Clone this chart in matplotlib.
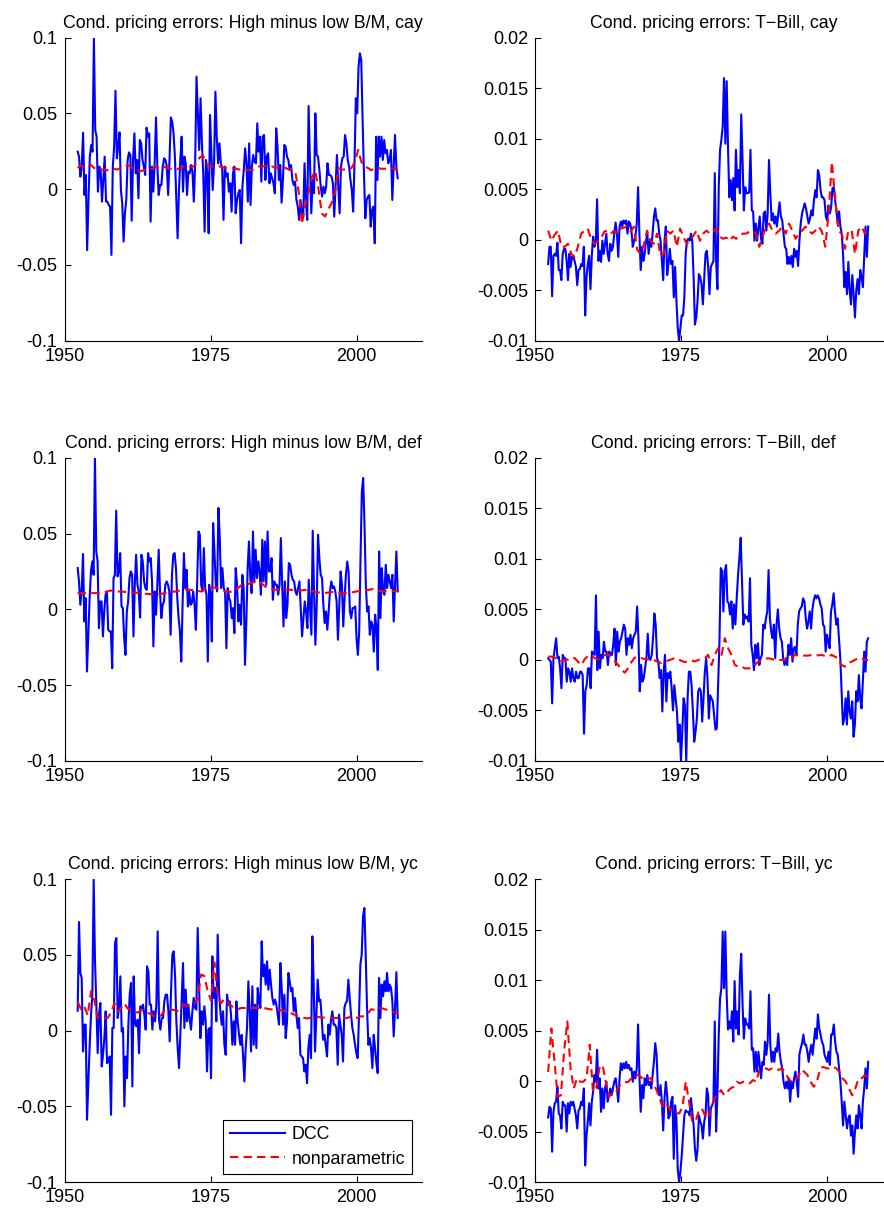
import matplotlib
matplotlib.use('Agg')
import matplotlib.pyplot as plt
import numpy as np

plt.rcParams['font.family'] = ['Liberation Sans', 'DejaVu Sans']

# all values below are in units of 1e-3, quarterly-ish from 1952 to 2007
# High minus low B/M, cay
hml_cay_dcc = [
    24.8, 21.5, 8.3, 14.9, 37.3, -3.8, 9.4, -40.2, -7.1, 21.5, 29.2, 24.8, 99.6, 39.1, 34.7, -1.6,
    14.9, 12.7, -8.2, 6.1, 21.5, -8.2, -8.2, -10.4, -11.5, -43.4, 14.9, 28.1, 65.0, 20.4, 28.1, 37.5,
    -0.5, -9.3, -34.6, -15.9, -7.1, 19.3, 24.3, 22.6, -20.8, 19.3, 36.9, 10.5, 19.3, -6.0, 32.5, 30.3,
    19.3, 14.9, 9.4, 40.6, 34.7, 36.9, -21.4, 14.9, -1.6, 17.1, 47.4, 14.9, -3.8, 2.8, 2.8, 14.9,
    20.4, 19.3, 14.9, -3.8, 19.3, 47.4, 44.6, 36.9, 21.5, -6.0, -32.4, -0.5, 19.3, 34.7, -1.6, 21.5,
    17.1, -3.8, 11.6, 10.5, 16.0, 11.6, -8.2, 17.1, 74.3, 50.1, 25.9, 60.0, 30.3, 10.5, -28.0, 19.3,
    10.5, -29.1, 49.0, 23.7, -0.5, 17.1, 64.4, 34.7, 17.1, 30.3, 17.1, 13.8, -20.3, 14.9, 8.3, 10.5,
    -1.6, 3.9, -14.8, 10.5, 14.9, -15.9, -7.1, -2.7, -0.5, -35.7,
    1.7, 12.7, 27.0, 17.1, -8.2, 30.3, -10.4, 14.9, 22.6, 18.2, 17.1, 43.5, 24.8, 34.7, 5.0, 34.7,
    35.8, 6.1, 21.5, 23.7, 3.9, 10.5, 7.2, 3.9, -2.7, 40.2, 28.1, 6.1, 16.0, -8.9, 6.1, 29.2,
    28.1, 21.5, 19.3, 12.7, 16.0, 6.1, 2.8, 5.0, -7.1, -11.5, -20.3, -7.1, -15.9, -18.1, 17.1, -8.2,
    -20.3, 54.9, 19.3, -15.9, 6.1, -2.7, 50.1, 22.6, 21.5, 12.7, 1.7, -4.9, 1.7, -2.7, 1.7, 17.1,
    9.4, 9.4, 8.3, 3.9, -18.1, 1.7, 22.6, 1.7, -15.9, 14.9, 20.4, 21.5, 35.8, 30.3, 19.3, 14.9,
    6.1, -0.5, -14.8, 17.1, 60.0, 50.1, 80.9, 89.7, 85.3, 45.7, 10.5, -19.2, -7.1, -4.9, -3.8, -24.7,
    -13.7, -11.5, -35.7, 34.7, 6.1, 34.7, 21.5, 34.7, 19.3, 32.5, 23.7, 25.9, 17.1, 19.3, 25.9, -7.1,
    14.9, 35.8, 14.9, 7.2]
hml_cay_np = [
    14, 16, 14, 15, 16, 14, 13, 13, 13, 12.5, 13, 13.5, 13, 14, 14, 16, 15, 13, 12.5, 12, 12.5, 12.5,
    13, 14, 14.5, 15, 15, 14, 13.5, 13, 13, 14, 15, 16, 15, 15, 17, 21, 22, 17, 15.5, 15, 15, 15,
    14.5, 14, 14, 14, 13.5, 13, 12.7,
    12.7, 12.7, 12.7, 14, 15, 15, 15.5, 15, 15, 14, 15, 15, 14, 13, 13, 11, -2, -23, -10, -2, 8, 12,
    0, -16, -18, -13, -9, -2, 14, 13, 13, 13, 14, 18, 26, 18, 15, 14, 12.5, 14, 14, 13.5, 13.5, 13.5,
    13.5, 13.5, 12]

# T-Bill, cay
tb_cay_dcc = [
    -2.4, -0.7, -0.7, -5.6, -1.6, -1.4, -1.6, -0.3, -3.0, -3.0, -4.0, -1.4, -0.9, -0.9, -2.1, -4.0,
    -1.4, -2.7, -1.7, -1.7, -2.1, -2.7, -4.5, -3.0, -2.9, -2.4, -2.6, -0.7, -7.5, -3.7, -2.4, -1.6,
    -4.9, -1.6, 0.3, -0.7, -0.2, 4.0, -2.1, -1.1, -2.2, -0.1, -1.4, -0.4, 0.6, -1.4, -2.1, -0.4,
    -1.1, -0.7, 0.6, 1.7, 0.6, -1.7, 1.3, 1.8, 1.3, 1.9, 1.6, 1.9, 0.6, 1.8, 1.6, 0.9,
    -0.7, -0.1, 0.3, 1.6, 5.2, 0.6, -3.0, -0.7, -2.1, -1.4, -0.1, 0.6, -1.4, -0.1, -0.7, 0.6,
    2.3, 3.1, 1.9, 1.9, 0.6, -0.1, -2.1, -4.0, -0.1, 1.3, -3.5, -2.4, -0.9, -2.4, -2.1, -5.7,
    -2.7, -6.0, -8.7, -10.0, -8.8, -7.5, -7.5, -5.7, -1.4, -0.1, 0.1, -0.1, 0.6, -0.2, -3.7, -8.4,
    -7.7, -6.0, -3.4, -3.7, -4.4, -6.4, -4.0, -1.4, -1.1, -2.7, -5.4, -2.7, -2.4, -2.1, 6.6, -2.1,
    -4.9, 5.2, 8.9, 9.9, 11.2, 16.0, 9.5, 15.7, 9.2, 4.2, 5.9, 3.9, 6.1, 2.9, 8.9, 5.2,
    6.9, 4.6, 12.4, 7.9, 2.9, 5.2, 4.6, 4.6, 4.7, 8.9, 2.9, 2.8, -0.1, 1.6, -0.1, 1.1,
    2.3, 0.1, -0.4, 2.6, 2.8, 0.9, 2.6, 7.9, 4.6, 1.9, 2.6, 1.6, 2.3, 1.3, 2.6, 3.7,
    2.3, 1.9, 0.6, -0.7, -0.9, -2.4, -1.7, -2.4, -1.6, -2.7, -0.9, -1.7, -1.1, -2.6, -0.1, 1.6,
    2.6, 3.1, 3.6, 3.1, 2.3, 1.6, 2.1, 2.9, 2.4, 3.9, 4.9, 4.2, 6.9, 6.4, 4.9, 4.2,
    4.2, 3.9, 2.3, 1.9, 3.4, 2.6, 3.2, 5.1, 5.2, 3.9, 2.9, 1.6, 2.8, 1.3, 0.6, -1.4,
    -4.7, -3.2, -5.4, -2.2, -5.0, -6.4, -3.5, -5.4, -7.7, -5.0, -3.9, -5.4, -3.0, -3.7, -4.7, -1.7,
    1.3, -1.7, 1.3]
tb_cay_np = [
    0.9, -0.1, 0.5, 0.9, -0.7, -0.7, -0.4, -1.4, -1.7, -0.7, 0.6, 0.9, 1.1, 0.1, -0.4, -0.2,
    0.1, 0.8, 0.9, 0.6, 0.9, 0.6, 1.1, 1.2, 1.3, 0.8, 1.3, -1.0, -1.4, -0.5, 0.9, -0.1,
    -0.4, 0.6, -1.6, -1.4, 0.9, 0.6, 0.9, -0.7, 1.1, 0.3, -0.4, -0.1, 0.4,
    0.9, -0.1, 0.6, 0.9, 0.6, 0.8, 1.1, 0.3, 0.1, 0.2, -0.1, 0.3, 0.1, 0.4, 0.6, 0.6,
    0.8, 0.9, 0.6, -0.7, 0.3, 1.3, 1.6, 0.9, 0.6, 0.9, 1.3, 0.6, 1.6, 0.9, 0.1, 0.6,
    0.9, 1.3, 0.9, 0.6, 0.9, 1.3, 0.8, -0.7, 2.6, 7.7, 4.0, 0.9, 0.6, -0.9, 0.9, 0.9,
    -1.4, 0.9, 1.3, 0.6, 0.9]

# High minus low B/M, def
hml_def_dcc = [
    27.3, 18.5, 3.1, 11.9, 36.6, -7.9, 7.5, -41.0, -16.7, 7.5, 25.1, 31.7, 22.9, 100.0, 38.3, 31.7,
    -12.3, 5.3, 5.3, -17.8, -1.3, 9.7, 11.9, -13.4, -14.5, -14.5, -38.8, 20.7, 22.9, 65.2, 21.8, 25.1,
    37.2, 2.0, 0.9, -18.9, -30.0, -1.3, 5.3, 20.7, 25.1, 22.9, -17.8, 16.3, 36.1, 16.3, 11.9, -5.3,
    36.1, 31.7, 18.5, 14.1, 13.0, 37.2, 31.7, 33.9, 18.5, -24.4, 11.9, -3.5, 16.3, 39.4, 11.9, -5.7,
    3.1, 5.3, 16.3, 18.5, 16.3, 11.9, -16.7, 22.9, 36.1, 37.2, 27.3, 7.5, -5.7, -14.5, -34.4, 3.1,
    37.2, 14.1, 26.2, 2.0, 11.9, 3.1, 4.2, 11.9, 3.1, -13.4, 18.5, 51.5, 49.3, 16.3, 11.9, 40.5,
    14.1, 9.7, -34.4, 16.3, 9.7, -21.1, 57.0, 38.3, 16.3, 11.9, 67.0, 47.1, 14.1, 27.3, 14.1, 11.9,
    -25.6, 14.1, 7.5, 5.3, -5.7, 0.9, -15.6, 27.3, 16.3, -7.9, 3.1, -10.1, 22.9, 14.1, -36.6,
    -7.9, 27.3, 44.9, 20.7, 10.8, 51.5, 18.5, 39.4, 20.7, 31.7, 25.1, 9.7, 46.0, 18.5, 44.9, 16.3,
    51.5, 25.1, 25.1, 33.9, 6.4, 18.5, 16.3, 16.3, 9.7, 16.3, 47.1, 16.3, -11.2, 18.5, -5.7, 3.1,
    30.6, 29.5, 22.9, 19.6, 18.5, 11.9, 9.7, 14.1, 18.5, 0.9, -17.8, -5.7, 5.3, -1.3, -12.3, 19.6,
    0.9, -16.7, 52.0, 11.9, -23.3, 3.1, 49.3, 33.9, 22.9, 20.7, 3.1, -9.0, -1.3, -13.4, -1.3, 11.9,
    18.5, 14.1, 15.2, 11.9, 5.3, -20.0, 3.1, 25.1, 16.3, -11.2, 7.5, 22.9, 31.7, 25.1, -1.3, -5.7,
    0.9, 0.9, 2.0, -18.9, -30.0, -14.5, 33.9, 78.0, 86.8, 55.9, 16.3, -1.3, 2.0, -16.7, -7.9, -10.1,
    -27.8, -3.5, -12.3, -39.9, 38.3, -5.7, 27.3, 11.9, 9.7, 29.5, 14.1, 22.9, 18.5, 14.1, 22.9, -7.9,
    16.3, 38.3, 11.9]
hml_def_np = [
    10.8, 10.8, 10.8, 10.8, 12.5, 11.9, 11.5, 11.2, 10.5, 10, 10, 11.5, 11.9, 13.4, 12.8, 11.9,
    15, 14.1, 11.9, 11.5, 16.3,
    17, 19, 14.5, 13, 13, 13, 12.5, 13, 11.5, 10.8, 11.5, 10.8, 10.8, 11.9, 12.5, 13.5, 12, 12, 12.5]

# T-Bill, def
tb_def_dcc = [
    0.17, 0, -0.17, -4.3, 0.17, 1.16, 2.15, 0.17, 0.33, -0.83, -2.8, 0.5, 0.17, 0.17, -2.15, -0.83,
    -1.16, -2.15, -0.83, -1.8, -2.15, -1.16, -1.8, -1.8, -1.16, -1.16, -1.5, -7.3, -3.1, -2.5, -0.83, -0.83,
    -2.8, 0.83, 0.66, 0.5, 6.4, -1.0, 2.8, -0.83, 0.5, 0.17, 1.8, 0.83, 0.83, -0.5, 0.83, 0.5,
    0.5, 1.5, 3.1, -0.5, 2.8, 0.83, 1.8, 2.15, 2.8, 3.5, 3.1, 0.5, 2.15, 1.5, 2.5, 1.16,
    2.15, 2.5, 2.8, 5.3, 2.15, -3.1, -0.5, -2.15, -1.8, -0.83, 0.17, 2.6, 0.17, 0, 0.5, 2.15,
    4.6, 3.5, 0.17, -0.17, -1.8, -1.0, -5.1, -1.16, 0.5, -4.1, -1.3, -1.8, -1.16, -2.8, -5.0, -2.5,
    -3.8, -5.1, -8.1, -6.4, -10, -7.1, -3.8, -4.5, -10, -3.8, -1.16, -1.16, -2.5, -5.1, -8.1,
    -7.1, -5.8, -3.1, -2.8, -3.1, -6.1, -3.8, -1.16, 0.17, -1.8, -5.8, -3.5, -3.8, -4.1, -5.5, -6.9,
    -6.8, -2.5, 1.8, 9.1, 8.8, 4.8, 8.8, 9.4, 5.8, 5.6, 4.5, 5.8, 3.1, 5.5, 3.5, 6.1,
    8.4, 10.1, 12.1, 7.8, 3.5, 4.5, 4.1, 4.3, 3.8, 8.1, 1.5, 0.5, -1.0, 1.5, 0.17, 1.65,
    -0.5, 0.17, 0.5, 3.5, 3.1, 4.1, 4.8, 8.9, 4.1, 2.8, 2.15, 3.5, 0.17, 3.5, 5.0, 3.1,
    2.15, 1.8, 0.17, -0.5, 0.17, -0.5, 1.5, 0.5, 2.15, -0.17, 1.16, 1.3, 0.5, 3.5, 4.8, 5.1,
    5.3, 6.1, 5.8, 4.1, 3.1, 3.8, 4.8, 3.1, 5.0, 5.9, 6.4, 6.1, 6.4, 6.1, 5.5, 5.1,
    3.5, 3.3, 0.83, 2.5, 1.8, 1.16, 4.8, 5.5, 6.6, 4.8, 3.5, 4.1, 2.15, 0.17, -3.1, -6.4,
    -5.8, -3.8, -6.4, -3.1, -5.1, -5.8, -4.1, -7.6, -6.4, -3.1, -4.1, -1.5, -3.8, -4.8, -2.15, 0.83,
    -1.16, 1.8, 2.15]
tb_def_np = [
    0.33, 0.33, 0.2, 0.17, -0.1, -0.05, 0.05, 0.25, 0.17, -0.2, -0.5, 0.1, 0.4, 0.45, 0.17, 0.05,
    0.25, 0.5, 0.5, 0.4, -0.1, -0.5, -1.0, -1.25, -0.8, -0.2, 0.25, 0.1, 0.17, 0.1, 0.05, 0.1,
    -0.05, -0.2, -0.3, -0.15, -0.05, 0.05, 0.2, 0.1, -0.1, -0.2, -0.15, -0.05, -0.15,
    0, 0.1, 0.17, 0.5, -0.5, 0.5, 1.16, 0.5, 2.15, 1.16, 0.5, -0.5, -0.66, -0.66, -0.83, -0.83,
    -0.83, -0.5, -0.17, 0, 0.1, 0.17, 0.1, 0, 0, 0, 0, 0.33, 0.17, 0.5, 0.45, 0.43,
    0.43, 0.43, 0.5, 0.5, 0.45, 0.5, 0.4, 0.33, 0.5, 0.33, 0.17, -0.5, -0.66, -0.33, -0.17, 0,
    0.17, 0.17, 0, 0]

# High minus low B/M, yc
hml_yc_dcc = [
    13.1, 71.6, 38.0, 34.7, -13.8, 3.9, 3.9, -58.9, -33.6, -9.4, 10.5, 23.7, 99.6, 45.7, 17.1, -14.9,
    10.5, 18.2, -23.7, -16.0, -5.0, 12.7, -21.5, -20.4, -17.1, -55.6, 1.7, 1.7, 57.8, 61.1, 8.3, 14.9,
    35.8, -0.6, 1.7, -50.1, -17.1, -31.4, 3.9, 23.7, 31.4, -36.9, 35.8, 3.9, 2.8, 7.2, -14.9, 16.0,
    14.9, 17.1, 10.5, 0.6, 42.4, 39.1, 17.1, 17.1, 0.6, 12.7, 6.1, 17.1, 65.5, 7.2, 0.6, 8.3,
    8.3, 19.3, 23.7, 23.7, 12.7, -7.2, 25.9, 50.1, 52.3, 36.9, 6.1, -11.6, -24.8, -2.8, 20.4, 44.6,
    1.7, 27.0, 6.1, 17.1, 7.2, 0.6, 12.7, 21.5, 14.9, 13.8, 67.7, 30.3, -5.0, 12.7, 3.9, 16.0,
    6.1, -27.0, 0.6, 1.7, -31.4, 49.0, 21.5, 28.1, 6.1, 63.3, 25.9, 12.7, 3.9, 12.7, -9.4, -16.0,
    23.7, 17.1, 19.3, 10.5, -9.4, 6.1, -9.4, 19.3, 6.1, -2.8, -9.4, -2.8, -16.0, -33.6,
    -11.6, 1.7, 32.5, 12.7, -13.8, 29.2, -9.4, 17.1, -11.6, 28.1, 19.3, 14.9, 58.9, 35.8, 43.5, 30.3,
    45.7, 27.0, 40.2, 30.3, 21.5, 17.1, 20.4, 17.1, 10.5, 3.9, 44.6, 28.1, 3.9, 23.7, -5.0, 6.1,
    38.0, 32.5, 25.9, 28.1, 12.7, 21.5, 10.5, 1.7, 8.3, -16.0, -17.1, -18.2, -27.0, -22.6, -34.7, -11.6,
    -2.8, -18.2, 62.2, 30.3, -13.8, 10.5, 33.6, 19.3, 20.4, 8.3, -6.1, -2.8, -9.4, -17.1, 3.9, -2.8,
    7.2, 12.7, 3.9, 3.9, 1.7, -22.6, 10.5, 3.9, -2.8, -20.4, 14.9, 18.2, 19.3, 33.6, 21.5, 10.5,
    1.7, -2.8, -9.4, -14.9, -18.2, 10.5, 43.5, 50.1, 75.4, 80.9, 50.1, 14.9, -9.4, -5.0, -11.6, -24.8,
    -2.8, -11.6, -21.5, -28.1, 34.7, 8.3, 30.3, 22.6, 32.5, 25.9, 38.0, 25.9, 30.3, 28.1, 19.3, -3.9,
    14.9, 38.5, 8.3]
hml_yc_np = [
    19, 14, 16, 10, 26, 20, 8.3, 8.3, 8.3, 8.3, 12, 18, 12.5, 15, 18, 14.5, 13.5, 12.5, 11.8, 13.5,
    12.5, 11.6, 11, 9.2, 8.5, 10, 13, 13.8, 13.8, 13.5, 13, 15.5, 17, 16.2, 17.1, 17.5, 21, 37, 36, 26,
    20, 45, 23, 18, 21, 19, 16.5, 14.6, 14, 14.9, 14.9,
    14.9, 14.9, 14.9, 14.9, 14.6, 14.9, 14.3, 14, 13.8, 13.6, 13.3, 13, 12.7, 11.5, 10.5, 9.4, 9, 8.3,
    8, 8.5, 9.4, 9, 8.7, 8.5, 8.7, 8.3, 8.3, 8.3, 8.3, 8.3, 8.3, 9.5, 8.3, 8.5, 9.4, 9.4, 11, 14,
    13.8, 14.9, 14.9, 14.2, 13.5, 12.7, 12, 11.6]

# T-Bill, yc
tb_yc_dcc = [
    -3.6, -2.55, -2.7, -7.0, -3.05, -2.2, -2.05, -0.56, -3.2, -3.4, -4.7, -2.05, -2.4, -2.4, -5.0, -2.2,
    -3.2, -2.05, -2.4, -2.05, -2.7, -3.4, -4.7, -2.9, -2.7, -2.05, -2.4, -0.73, -8.35, -5.4, -4.0, -2.2,
    -4.4, -2.05, -1.06, 0.6, -0.07, 3.1, -0.73, 0.27, -3.05, -0.73, -2.7, -0.73, -0.07, -2.05, -1.4, -0.73,
    -1.4, -0.73, -0.07, 0.27, -0.73, -2.05, 0.27, 1.76, 1.1, 1.76, 1.26, 1.9, 1.26, 1.6, 1.1, 1.26,
    -0.07, 0.93, 0.27, 1.26, 5.6, 0.6, -3.05, -0.4, -1.7, 0.27, -0.4, 0.6, -0.4, -0.07, -0.73, 0.6,
    1.9, 3.75, 2.6, -0.73, -1.4, -0.4, -2.05, -4.9, -1.7, -0.07, -1.4, -3.7, -3.4, -2.05, -1.56, -7.7,
    -2.4, -3.7, -8.7, -10, -9.0, -7.4, -5.4, -3.4, -2.9, -3.05, -3.05, -3.4, -1.7, -3.05, -4.4, -6.7,
    -7.9, -6.7, -3.4, -4.0, -4.4, -5.7, -4.0, -3.4, -0.73, -1.4, -5.4, -2.7, -2.4, -2.05, 5.9, -5.0,
    -1.4, 4.6, 8.2, 9.2, 14.8, 9.2, 14.8, 8.55, 5.1, 5.9, 5.2, 6.9, 3.9, 9.9, 5.2, 6.9,
    4.6, 10.5, 12.6, 7.6, 4.2, 6.2, 5.6, 5.6, 5.2, 8.9, 3.1, 3.25, 0.93, 2.9, 0.93, 2.9,
    1.6, 0.27, 1.9, 1.6, 3.9, 2.6, 3.9, 8.55, 3.6, 1.9, 2.9, 1.9, 3.25, 2.9, 4.7, 2.9,
    1.9, 1.26, -0.07, -0.73, -0.07, -0.73, 0.27, -2.05, -0.07, -0.73, 0.27, 0.93, -0.07, -1.56, 2.6, 3.25,
    3.75, 4.6, 3.6, 3.6, 2.9, 1.9, 2.9, 3.6, 2.6, 3.9, 5.2, 4.2, 6.6, 5.2, 4.6, 3.9,
    3.6, 2.6, 2.25, 1.9, 2.9, 1.6, 4.6, 4.6, 5.6, 3.9, 2.9, 2.6, 1.26, -0.07, -2.05, -4.4,
    -2.05, -3.4, -4.7, -3.7, -3.4, -5.4, -4.4, -7.2, -5.0, -3.4, -4.7, -2.4, -3.4, -4.7, -2.05, -0.73,
    1.26, -0.73, 1.9]
tb_yc_np = [
    0.9, 5.2, 1.9, -1.56, -1.4, 3.0, 5.9, 1.26, -0.73, 0.27, -0.07, -0.07, 0.27, 3.6, -1.06, -0.73,
    1.26, 1.6, -0.07, -1.56, -1.2, -1.2, -0.6, -0.2, -0.1, -0.1, 0.27, 0.6, 0.6, 0.4, 0.1, 0.27,
    0.27, -0.3, -1.0, -1.9, -2.7, -2.4, -2.7, -3.2, -3.2, -3.2, -2.5, -0.07, -2.0, -4.0, -4.0,
    -3.05, -2.7, -3.4, -3.7, -2.55, -1.7, -1.4, -0.9, -1.4, -1.06, -0.73, -0.56, -0.07, -0.23, -0.07, -0.07,
    -0.23, 0.1, -0.07, 1.1, 1.26, 1.26, 1.1, 1.26, 1.26, 1.1, 1.26, 0.93, 0.27, -0.07, 0.27, 0.27,
    1.1, 0.93, 0.6, -0.07, -0.56, -0.07, 1.26, 1.4, 1.26, 1.26, 1.4, 1.26, 0.93, 0.27, -0.07, -0.73,
    -1.4, -0.73, 0.27, 0.27, 0.6, 0.27]

panels = [
    (hml_cay_dcc, hml_cay_np, 'Cond. pricing errors: High minus low B/M, cay', 'hml'),
    (tb_cay_dcc, tb_cay_np, 'Cond. pricing errors: T\u2212Bill, cay', 'tb'),
    (hml_def_dcc, hml_def_np, 'Cond. pricing errors: High minus low B/M, def', 'hml'),
    (tb_def_dcc, tb_def_np, 'Cond. pricing errors: T\u2212Bill, def', 'tb'),
    (hml_yc_dcc, hml_yc_np, 'Cond. pricing errors: High minus low B/M, yc', 'hml'),
    (tb_yc_dcc, tb_yc_np, 'Cond. pricing errors: T\u2212Bill, yc', 'tb'),
]

fig = plt.figure(figsize=(8.84, 12.09), dpi=100)

col_x = [0.073, 0.6052]
row_y = [0.7182, 0.3706, 0.0223]
w, h = 0.404, 0.2506

for i, (dcc, npar, title, kind) in enumerate(panels):
    ax = fig.add_axes([col_x[i % 2], row_y[i // 2], w, h])

    # datas trimestrais, do inicio de 1952 ao fim de 2006
    t_dcc = np.linspace(1952.25, 2007.0, len(dcc))
    t_np = np.linspace(1952.25, 2007.0, len(npar))

    ax.plot(t_dcc, np.array(dcc) * 1e-3, color='#0000ff', lw=1.5, label='DCC')
    ax.plot(t_np, np.array(npar) * 1e-3, color='#ff0000', lw=1.5, ls='--',
            dashes=(4, 2.5), label='nonparametric')

    ax.set_xlim(1950, 2011.1)
    ax.set_xticks([1950, 1975, 2000])
    ax.set_xticklabels(['1950', '1975', '2000'])

    if kind == 'hml':
        ax.set_ylim(-0.1, 0.1)
        ax.set_yticks([-0.1, -0.05, 0, 0.05, 0.1])
        ax.set_yticklabels(['-0.1', '-0.05', '0', '0.05', '0.1'])
    else:
        ax.set_ylim(-0.01, 0.02)
        ax.set_yticks([-0.01, -0.005, 0, 0.005, 0.01, 0.015, 0.02])
        ax.set_yticklabels(['-0.01', '-0.005', '0', '0.005', '0.01', '0.015', '0.02'])

    # estilo matlab, sem caixa
    ax.spines['top'].set_visible(False)
    ax.spines['right'].set_visible(False)
    ax.spines['left'].set_linewidth(0.8)
    ax.spines['bottom'].set_linewidth(0.8)
    ax.tick_params(direction='in', length=4, width=0.8, labelsize=13, pad=5)

    ax.set_title(title, fontsize=12.8, pad=7)

    if i == 4:
        leg = ax.legend(loc='lower right', bbox_to_anchor=(0.973, 0.026), borderaxespad=0,
                        fontsize=12.8, fancybox=False, edgecolor='black', framealpha=1,
                        handlelength=3.1, handletextpad=0.4, borderpad=0.37, labelspacing=0.4)
        leg.get_frame().set_linewidth(0.8)

plt.savefig('out.png', dpi=100)
plt.close()
